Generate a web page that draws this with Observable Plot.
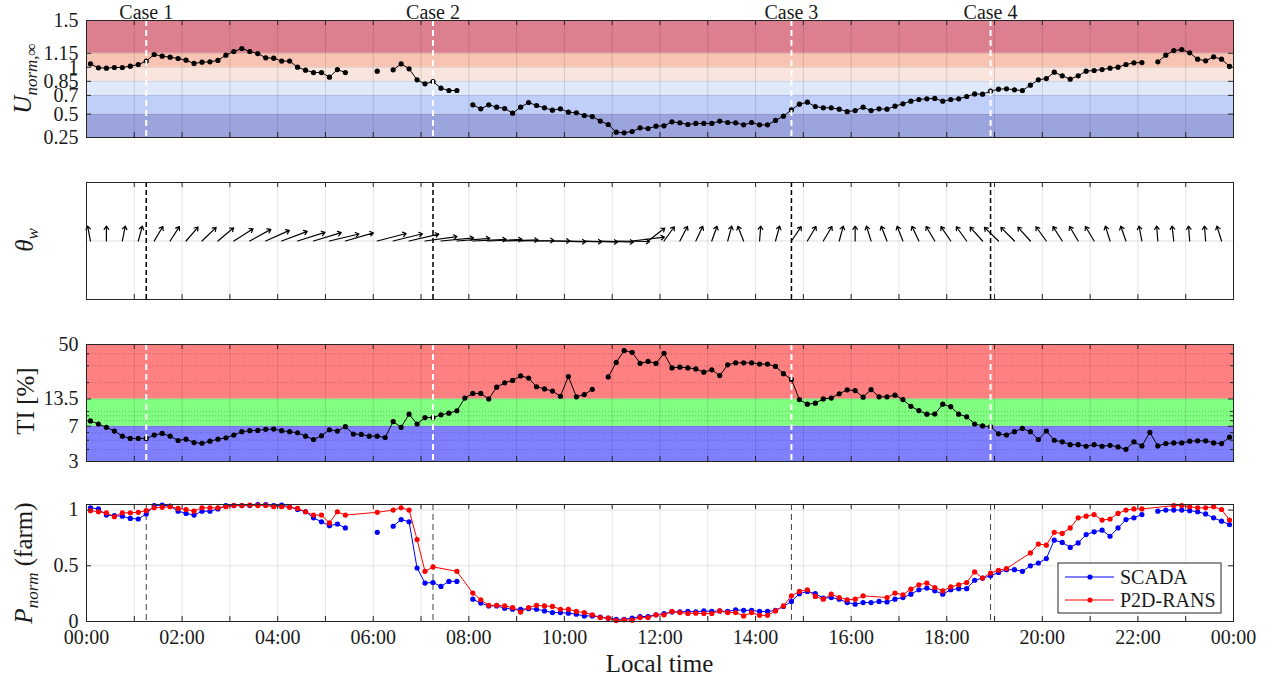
<!DOCTYPE html>
<html>
<head>
<meta charset="utf-8">
<script src="https://cdn.jsdelivr.net/npm/d3@7"></script>
<script src="https://cdn.jsdelivr.net/npm/@observablehq/plot@0.6"></script>
<style>
  html, body { margin: 0; padding: 0; background: #fff; }
  #chart { position: relative; width: 1275px; height: 682px; overflow: hidden; font-family: "Liberation Serif", "DejaVu Serif", serif; }
  .panel { position: absolute; left: 0; }
  .panel svg { display: block; }
</style>
</head>
<body>
<div id="chart"></div>
<script>
// ---------------- DATA ----------------
const startHour = 1 / 12;   // first 10-min sample centred at 00:05
const stepHour = 1 / 6;     // 10-minute sampling
const hourTicks = d3.range(0, 25);
const labelHours = d3.range(0, 25, 2);
const caseTimes = [1.25, 7.25, 14.75, 18.9167];
const caseLabels = ["Case 1", "Case 2", "Case 3", "Case 4"];
const uTicks = [0.25, 0.5, 0.7, 0.85, 1, 1.15, 1.5];
const tiTicks = [3, 7, 13.5, 50];
const tiMinorTicks = [4, 5, 6, 8, 9, 10, 20, 30, 40];
const pTicks = [0, 0.5, 1];
const seriesLabels = ["SCADA", "P2D-RANS"];

const uNorm = [
  1.037, 0.994, 0.991, 0.998, 0.998, 1.012, 1.03, 1.066, 1.137, 1.119, 1.108, 1.094,
  1.076, 1.041, 1.055, 1.058, 1.073, 1.13, 1.169, 1.201, 1.169, 1.147, 1.101, 1.098,
  1.066, 1.066, 1.001, 0.969, 0.944, 0.944, 0.895, 0.976, 0.944, null, null, null,
  0.959, null, 0.973, 1.037, 0.984, 0.866, 0.823, 0.848, 0.777, 0.752, 0.752, null,
  0.599, 0.556, 0.599, 0.574, 0.56, 0.51, 0.574, 0.624, 0.592, 0.567, 0.542, 0.556,
  0.521, 0.514, 0.485, 0.474, 0.425, 0.389, 0.307, 0.3, 0.314, 0.353, 0.346, 0.371,
  0.375, 0.417, 0.407, 0.389, 0.4, 0.4, 0.4, 0.425, 0.41, 0.407, 0.385, 0.41,
  0.385, 0.385, 0.432, 0.478, 0.545, 0.606, 0.627, 0.581, 0.567, 0.567, 0.553, 0.526,
  0.538, 0.574, 0.538, 0.556, 0.553, 0.585, 0.61, 0.638, 0.656, 0.663, 0.667, 0.638,
  0.656, 0.663, 0.688, 0.716, 0.713, 0.745, 0.766, 0.77, 0.759, 0.752, 0.809, 0.866,
  0.88, 0.948, 0.909, 0.873, 0.909, 0.959, 0.966, 0.976, 0.991, 1.001, 1.03, 1.048,
  1.051, null, 1.058, 1.13, 1.179, 1.19, 1.155, 1.087, 1.069, 1.112, 1.087, 1.009
];

// wind direction (deg, clockwise from "up"), one arrow every second sample
const windDir = [
  -5, 0, 5, 7, 15, 16, 21, 25, 28, 35, 39, 45,
  50, 55, 56, 62, 57, null, 60, 61, 63, 73, 78, 80,
  84, 84, 86, 88, 90, 93, 93, 94, 94, 92, 75, 30,
  18, 13, 12, 9, 7, -10, 2, 7, 17, 15, 15, 7,
  0, -8, -10, -10, -12, -15, -17, -18, -22, -25, -24, -22,
  -18, -16, -15, -15, -8, -9, -5, -2, -3, -2, -2, -8
];

const tiPct = [
  7.96, 7.39, 6.82, 6.24, 5.52, 5.22, 5.22, 5.22, 5.66, 5.89, 5.52, 4.97,
  5.13, 4.73, 4.65, 4.89, 5.13, 5.3, 5.66, 6.14, 6.29, 6.34, 6.5, 6.55,
  6.29, 6.14, 5.99, 5.52, 5.09, 5.57, 6.44, 6.24, 6.93, 5.8, 5.75, 5.52,
  5.52, 5.34, 7.83, 6.82, 9.36, 7.39, 8.63, 8.63, 9.21, 9.6, 10.16, 13.8,
  15.4, 15.4, 13.5, 17.9, 19.9, 21.1, 23.5, 22.3, 18.1, 17.2, 16.3, 14.4,
  23.1, 14.2, 15.0, 17.0, null, 22.9, 32.5, 43.2, 41.4, 31.8, 33.3, 31.7,
  40.5, 28.5, 29.0, 28.5, 27.8, 25.7, 27.2, 23.7, 30.7, 32.2, 32.2, 32.2,
  31.2, 31.2, 29.5, 24.8, 21.6, 13.3, 11.9, 12.2, 13.5, 13.8, 15.3, 16.8,
  16.5, 14.1, 16.9, 14.2, 14.2, 14.8, 13.3, 11.3, 10.2, 9.36, 9.4, 11.9,
  11.2, 9.36, 8.78, 7.39, 7.05, 6.93, 5.84, 5.66, 6.14, 6.65, 6.14, 5.09,
  6.24, 5.0, 4.81, 4.5, 4.5, 4.33, 4.5, 4.33, 4.43, 4.26, 4.02, 4.81,
  4.36, 6.04, 4.36, 4.62, 4.69, 4.69, 4.89, 4.93, 4.93, 4.69, 4.62, 5.39
];

const pScada = [
  1.02, 1.01, 0.955, 0.95, 0.945, 0.925, 0.92, 0.965, 1.04, 1.045, 1.035, 0.99,
  0.97, 0.955, 0.99, 0.99, 1.01, 1.04, 1.04, 1.04, 1.04, 1.05, 1.05, 1.04,
  1.045, 1.03, 1.005, 0.985, 0.93, 0.895, 0.86, 0.875, 0.84, null, null, null,
  0.80, null, 0.855, 0.915, 0.895, 0.48, 0.345, 0.35, 0.315, 0.36, 0.36, null,
  0.2, 0.165, 0.14, 0.14, 0.12, 0.11, 0.11, 0.115, 0.11, 0.095, 0.08, 0.08,
  0.075, 0.065, 0.05, 0.05, 0.04, 0.03, 0.02, 0.02, 0.03, 0.045, 0.045, 0.06,
  0.07, 0.085, 0.087, 0.09, 0.087, 0.095, 0.09, 0.095, 0.09, 0.105, 0.1, 0.1,
  0.09, 0.09, 0.1, 0.135, 0.18, 0.25, 0.27, 0.25, 0.21, 0.215, 0.2, 0.17,
  0.155, 0.17, 0.17, 0.18, 0.175, 0.2, 0.215, 0.245, 0.285, 0.3, 0.275, 0.245,
  0.285, 0.295, 0.295, 0.37, 0.39, 0.41, 0.44, 0.465, 0.465, 0.45, 0.5, 0.525,
  0.565, 0.73, 0.71, 0.665, 0.705, 0.78, 0.805, 0.82, 0.765, 0.84, 0.915, 0.93,
  0.96, null, 0.99, 1.0, 1.0, 1.0, 0.995, 0.985, 0.965, 0.93, 0.9, 0.87
];

const pRans = [
  0.995, 0.985, 0.975, 0.94, 0.975, 0.975, 0.98, 0.995, 1.02, 1.025, 1.03, 1.015,
  1.005, 0.99, 1.02, 1.02, 1.02, 1.03, 1.04, 1.04, 1.045, 1.04, 1.04, 1.03,
  1.03, 1.025, 1.015, 0.985, 0.955, 0.955, 0.885, 0.985, 0.955, null, null, null,
  0.98, null, 1.0, 1.02, 1.0, 0.735, 0.45, 0.49, null, null, 0.45, null,
  0.255, 0.195, 0.145, 0.145, 0.14, 0.125, 0.085, 0.125, 0.145, 0.14, 0.135, 0.11,
  0.11, 0.09, 0.08, 0.06, 0.035, 0.03, 0.008, 0.015, 0.012, 0.035, 0.035, 0.06,
  0.06, 0.09, 0.08, 0.072, 0.075, 0.072, 0.072, 0.095, 0.08, 0.08, 0.05, 0.08,
  0.055, 0.055, 0.095, 0.14, 0.23, 0.27, 0.285, 0.225, 0.2, 0.245, 0.215, 0.195,
  0.2, 0.23, null, null, 0.215, 0.255, 0.24, 0.29, 0.33, 0.345, 0.305, 0.275,
  0.31, 0.33, 0.35, 0.445, 0.39, 0.435, 0.46, 0.475, null, null, 0.615, 0.695,
  0.685, 0.8, 0.79, 0.84, 0.93, 0.945, 0.96, 0.91, 0.92, 0.97, 1.0, 1.01,
  1.01, null, null, null, 1.04, 1.04, 1.03, 1.02, 1.02, 1.03, 1.005, 0.91
];

// ---------------- STYLE ----------------
const uBandColors = ["#9ca4de", "#bfcffa", "#dfe9fa", "#f9e5dd", "#f7c3b3", "#dc7f8e"];
const tiBandColors = ["#8080ff", "#80ff80", "#ff8080"];
const seriesColors = ["#0000ff", "#ff0000"];
const FONT = "'Liberation Serif', 'DejaVu Serif', serif";
const W = 1275, ML = 86, MR = 42, FH = 117, FW = W - ML - MR;
const axisCol = "#262626";
const arrowLx = 0.7;    // hours per unit horizontal component
const arrowLy = 0.256;  // y units per unit vertical component

// ---------------- DERIVED TABLES ----------------
const rows = uNorm.map((u, i) => ({t: startHour + i * stepHour, u, ti: tiPct[i], ps: pScada[i], pr: pRans[i]}));
const ransRows = rows.filter(d => d.pr != null);
const arrowRows = windDir.map((dir, j) => ({t: startHour + 2 * j * stepHour, dir})).filter(d => d.dir != null);
const cases = caseTimes.map((t, i) => ({t, label: caseLabels[i]}));
const uBands = uTicks.slice(0, -1).map((lo, i) => ({lo, hi: uTicks[i + 1]}));
const tiBands = tiTicks.slice(0, -1).map((lo, i) => ({lo, hi: tiTicks[i + 1]}));
const fmtHour = h => String(h % 24).padStart(2, "0") + ":00";
const rad = d => d * Math.PI / 180;

const style = {fontFamily: FONT, fontSize: "20px", background: "transparent", overflow: "visible", color: "#1a1a1a"};

function frameMarks(yMajor, yMinor) {
  const m = [
    Plot.frame({stroke: axisCol, strokeWidth: 1}),
    Plot.tickX(hourTicks, {insetTop: FH - 5, stroke: axisCol}),
    Plot.tickX(hourTicks, {insetBottom: FH - 5, stroke: axisCol})
  ];
  if (yMajor) m.push(
    Plot.tickY(yMajor, {insetRight: FW - 5, stroke: axisCol}),
    Plot.tickY(yMajor, {insetLeft: FW - 5, stroke: axisCol})
  );
  if (yMinor) m.push(
    Plot.tickY(yMinor, {insetRight: FW - 3, stroke: axisCol}),
    Plot.tickY(yMinor, {insetLeft: FW - 3, stroke: axisCol})
  );
  return m;
}

const chart = document.getElementById("chart");
function place(svg, top) {
  const d = document.createElement("div");
  d.className = "panel";
  d.style.top = top + "px";
  d.appendChild(svg);
  chart.appendChild(d);
}

// ---------------- PANEL 1 : U_norm ----------------
place(Plot.plot({
  width: W, height: 20 + FH + 2, marginTop: 20, marginBottom: 2, marginLeft: ML, marginRight: MR,
  style,
  x: {domain: [0, 24], axis: null},
  y: {domain: [0.25, 1.5], ticks: uTicks, tickFormat: d => String(d), tickSize: 0, tickPadding: 8, label: null},
  marks: [
    ...uBands.map((b, i) => Plot.rect([b], {y1: "lo", y2: "hi", fill: uBandColors[i]})),
    Plot.ruleX(hourTicks, {stroke: axisCol, strokeOpacity: 0.15}),
    Plot.ruleY(uTicks, {stroke: axisCol, strokeOpacity: 0.12}),
    Plot.line(rows, {x: "t", y: "u", stroke: "black", strokeWidth: 1}),
    Plot.dot(rows, {x: "t", y: "u", r: 2.6, fill: "black"}),
    Plot.ruleX(caseTimes, {stroke: "white", strokeWidth: 2, strokeDasharray: "6,4"}),
    Plot.text(cases, {x: "t", text: "label", frameAnchor: "top", lineAnchor: "middle", dy: -8, fontSize: 20, fill: "#1a1a1a"}),
    ...frameMarks(uTicks)
  ]
}), 0);

// ---------------- PANEL 2 : wind direction ----------------
place(Plot.plot({
  width: W, height: 10 + FH + 2, marginTop: 10, marginBottom: 2, marginLeft: ML, marginRight: MR,
  style,
  x: {domain: [0, 24], axis: null},
  y: {domain: [-1, 1], axis: null},
  marks: [
    Plot.ruleX(hourTicks, {stroke: axisCol, strokeOpacity: 0.12}),
    Plot.ruleY([0], {stroke: axisCol, strokeOpacity: 0.15}),
    Plot.arrow(arrowRows, {
      x1: "t", y1: () => 0,
      x2: d => d.t + Math.sin(rad(d.dir)) * arrowLx,
      y2: d => Math.cos(rad(d.dir)) * arrowLy,
      stroke: "black", strokeWidth: 1.2, headLength: 5, headAngle: 70
    }),
    Plot.ruleX(caseTimes, {stroke: "black", strokeWidth: 1.5, strokeDasharray: "5,3"}),
    ...frameMarks(null)
  ]
}), 171.5);

// ---------------- PANEL 3 : TI ----------------
place(Plot.plot({
  width: W, height: 10 + FH + 2, marginTop: 10, marginBottom: 2, marginLeft: ML, marginRight: MR,
  style,
  x: {domain: [0, 24], axis: null},
  y: {type: "log", domain: [3, 50], ticks: tiTicks, tickFormat: d => String(d), tickSize: 0, tickPadding: 8, label: null},
  marks: [
    ...tiBands.map((b, i) => Plot.rect([b], {y1: "lo", y2: "hi", fill: tiBandColors[i]})),
    Plot.ruleX(hourTicks, {stroke: axisCol, strokeOpacity: 0.15}),
    Plot.ruleY(tiTicks, {stroke: axisCol, strokeOpacity: 0.15}),
    Plot.ruleY(tiMinorTicks, {stroke: axisCol, strokeOpacity: 0.3, strokeDasharray: "1,2"}),
    Plot.line(rows, {x: "t", y: "ti", stroke: "black", strokeWidth: 1}),
    Plot.dot(rows, {x: "t", y: "ti", r: 2.6, fill: "black"}),
    Plot.ruleX(caseTimes, {stroke: "white", strokeWidth: 2, strokeDasharray: "6,4"}),
    ...frameMarks(tiTicks, tiMinorTicks)
  ]
}), 333.5);

// ---------------- PANEL 4 : P_norm ----------------
place(Plot.plot({
  width: W, height: 10 + FH + 60, marginTop: 10, marginBottom: 60, marginLeft: ML, marginRight: MR,
  style,
  x: {domain: [0, 24], ticks: labelHours, tickFormat: fmtHour, tickSize: 0, tickPadding: 8, label: null},
  y: {domain: [0, 1.05], ticks: pTicks, tickFormat: d => String(d), tickSize: 0, tickPadding: 8, label: null},
  marks: [
    Plot.ruleX(hourTicks, {stroke: axisCol, strokeOpacity: 0.12}),
    Plot.ruleY(pTicks, {stroke: axisCol, strokeOpacity: 0.12}),
    Plot.ruleX(caseTimes, {stroke: "#404040", strokeWidth: 1, strokeDasharray: "6,4"}),
    Plot.line(rows, {x: "t", y: "ps", stroke: seriesColors[0], strokeWidth: 1}),
    Plot.dot(rows, {x: "t", y: "ps", r: 2.6, fill: seriesColors[0]}),
    Plot.line(ransRows, {x: "t", y: "pr", stroke: seriesColors[1], strokeWidth: 1}),
    Plot.dot(ransRows, {x: "t", y: "pr", r: 2.6, fill: seriesColors[1]}),
    ...frameMarks(pTicks)
  ]
}), 494);

// ---------------- OVERLAY : axis titles & legend ----------------
const ov = d3.select(chart).append("svg")
  .attr("width", W).attr("height", 682)
  .style("position", "absolute").style("left", 0).style("top", 0)
  .attr("font-family", FONT).attr("fill", "#1a1a1a");

function yTitle(x, y, parts) {
  const t = ov.append("text")
    .attr("transform", `translate(${x},${y}) rotate(-90)`)
    .attr("text-anchor", "middle").attr("font-size", 25);
  parts.forEach(p => {
    const s = t.append("tspan").text(p.text);
    if (p.italic) s.attr("font-style", "italic");
    if (p.size) s.attr("font-size", p.size);
    if (p.dy) s.attr("dy", p.dy);
  });
}
yTitle(31, 78.5, [{text: "U", italic: true}, {text: "norm,∞", italic: true, size: 17, dy: 6}]);
yTitle(33, 240, [{text: "θ", italic: true}, {text: "w", italic: true, size: 17, dy: 5}]);
yTitle(34, 401, [{text: "TI [%]"}]);
yTitle(32, 563, [{text: "P", italic: true}, {text: "norm", italic: true, size: 17, dy: 6}, {text: "  (farm)", dy: -6}]);

ov.append("text").attr("x", 659.5).attr("y", 672).attr("text-anchor", "middle")
  .attr("font-size", 25).text("Local time");

const lg = ov.append("g");
lg.append("rect").attr("x", 1058).attr("y", 563).attr("width", 163).attr("height", 50)
  .attr("fill", "white").attr("stroke", axisCol);
seriesLabels.forEach((label, k) => {
  const yy = 577 + k * 23;
  lg.append("line").attr("x1", 1065).attr("x2", 1114).attr("y1", yy).attr("y2", yy)
    .attr("stroke", seriesColors[k]);
  lg.append("circle").attr("cx", 1090).attr("cy", yy).attr("r", 2.6).attr("fill", seriesColors[k]);
  lg.append("text").attr("x", 1120).attr("y", yy).attr("dy", "0.35em").attr("font-size", 20).text(label);
});
</script>
</body>
</html>
